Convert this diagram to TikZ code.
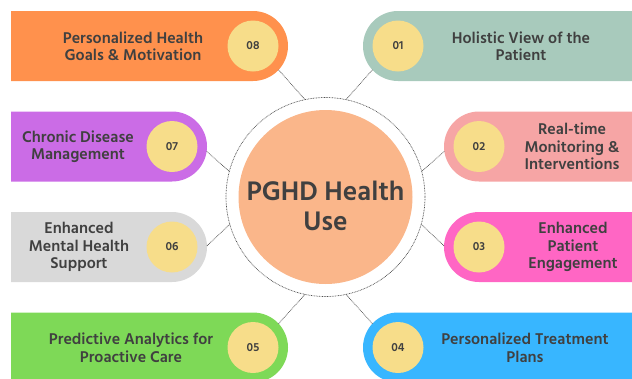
\documentclass[tikz,border=0pt]{standalone}
\usepackage{fontspec}
\setmainfont{Hind Siliguri}
\usetikzlibrary{calc}

\definecolor{pillOrange}{RGB}{255,145,77}
\definecolor{pillPurple}{RGB}{203,108,230}
\definecolor{pillGray}{RGB}{217,217,217}
\definecolor{pillGreen}{RGB}{126,217,87}
\definecolor{pillSage}{RGB}{168,202,188}
\definecolor{pillSalmon}{RGB}{246,165,165}
\definecolor{pillPink}{RGB}{255,102,196}
\definecolor{pillBlue}{RGB}{56,182,255}
\definecolor{dotYellow}{RGB}{247,221,138}
\definecolor{corePeach}{RGB}{250,182,138}
\definecolor{txtGray}{RGB}{64,64,64}
\definecolor{dotGray}{RGB}{80,80,80}

\begin{document}
\begin{tikzpicture}[
		x=1pt, y=-1pt, % image coordinates, y runs down
		font=\bfseries,
		numdot/.style={circle, fill=dotYellow, minimum size=51pt, inner sep=0pt, outer sep=9.5pt,
			text=txtGray, font=\fontsize{12}{12}\selectfont\bfseries},
		link/.style={draw=dotGray, line width=0.7pt, dash pattern=on 0.8pt off 0.8pt},
		caption/.style={align=center, text=txtGray, font=\fontsize{16}{17.5}\selectfont\bfseries}
		]
		
		% --- 1. Frame ---
		\useasboundingbox (0,0) rectangle (632,378);
		\clip (0,0) rectangle (632,378);
		
		% --- 2. Left pills (round end on the right) ---
		\fill[pillOrange] (11,11) -- (253,11) arc[start angle=-90, end angle=90, radius=35] -- (11,81) -- cycle;
		\fill[pillPurple] (11,111.5) -- (172,111.5) arc[start angle=-90, end angle=90, radius=35] -- (11,181.5) -- cycle;
		\fill[pillGray] (11,212) -- (172,212) arc[start angle=-90, end angle=90, radius=35] -- (11,282) -- cycle;
		\fill[pillGreen] (11,312.5) -- (253,312.5) arc[start angle=-90, end angle=90, radius=35] -- (11,382.5) -- cycle;
		
		% --- 3. Right pills (round end on the left) ---
		\fill[pillSage] (640,11) -- (398,11) arc[start angle=-90, end angle=-270, radius=35] -- (640,81) -- cycle;
		\fill[pillSalmon] (640,111.5) -- (479,111.5) arc[start angle=-90, end angle=-270, radius=35] -- (640,181.5) -- cycle;
		\fill[pillPink] (640,212) -- (479,212) arc[start angle=-90, end angle=-270, radius=35] -- (640,282) -- cycle;
		\fill[pillBlue] (640,312.5) -- (398,312.5) arc[start angle=-90, end angle=-270, radius=35] -- (640,382.5) -- cycle;
		
		% --- 4. Number dots ---
		\node[numdot] (n1) at (398,46) {01};
		\node[numdot] (n2) at (479,146.5) {02};
		\node[numdot] (n3) at (479,247) {03};
		\node[numdot] (n4) at (398,347.5) {04};
		\node[numdot] (n5) at (253,347.5) {05};
		\node[numdot] (n6) at (172,247) {06};
		\node[numdot] (n7) at (172,146.5) {07};
		\node[numdot] (n8) at (253,46) {08};
		
		% --- 5. Hub ---
		\node[circle, minimum size=199pt, inner sep=0pt, link] (hub) at (325.5,197) {};
		\node[circle, fill=corePeach, minimum size=174pt, inner sep=0pt] (core) at (hub) {};
		\node[align=center, text=txtGray, font=\fontsize{27.5}{30}\selectfont\bfseries] (title) at (325.5,206) {PGHD Health\\Use};
		
		% --- 6. Dotted links ---
		\draw[link] (n8.-43) -- (hub.102);
		\draw[link] (n7.-8) -- (hub.165);
		\draw[link] (n6.2) -- (hub.196);
		\draw[link] (n5.43) -- (hub.258);
		\draw[link] (n1.223) -- (hub.78);
		\draw[link] (n2.188) -- (hub.15);
		\draw[link] (n3.178) -- (hub.-16);
		\draw[link] (n4.137) -- (hub.-78);
		
		% --- 7. Captions ---
		\node[caption] (c1) at (521,46) {Holistic View of the\\Patient};
		\node[caption] (c2) at (572,146.5) {Real-time\\Monitoring \&\\Interventions};
		\node[caption] (c3) at (573,247) {Enhanced\\Patient\\Engagement};
		\node[caption] (c4) at (525,347.5) {Personalized Treatment\\Plans};
		\node[caption] (c5) at (131,347.5) {Predictive Analytics for\\Proactive Care};
		\node[caption] (c6) at (79,247) {Enhanced\\Mental Health\\Support};
		\node[caption] (c7) at (78,146.5) {Chronic Disease\\Management};
		\node[caption] (c8) at (133,46) {Personalized Health\\Goals \& Motivation};
		
	\end{tikzpicture}
\end{document}
